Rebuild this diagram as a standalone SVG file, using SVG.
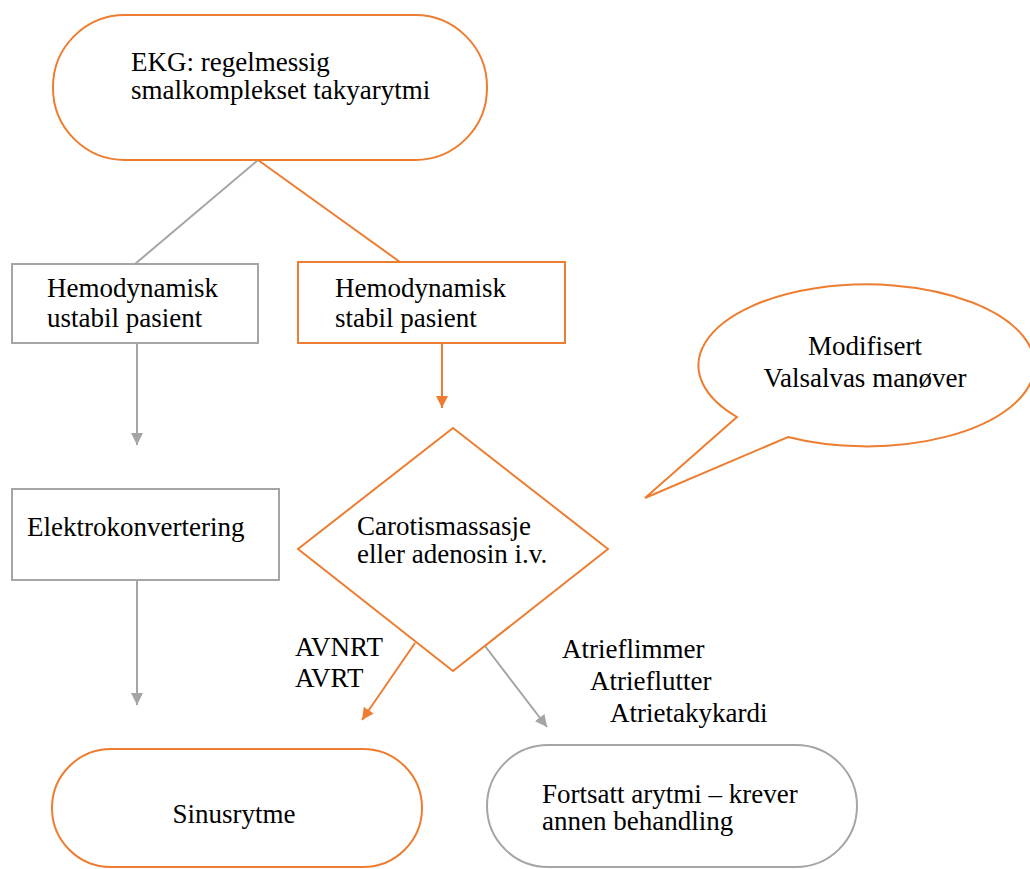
<svg xmlns="http://www.w3.org/2000/svg" width="1030" height="869" viewBox="0 0 1030 869">
<style>
text{font-family:"Liberation Serif","Times New Roman",serif;font-size:27px;fill:#000}
.o{fill:#fff;stroke:#ED7D31;stroke-width:2}
.g{fill:#fff;stroke:#A5A5A5;stroke-width:2}
.lo{fill:none;stroke:#ED7D31;stroke-width:2}
.lg{fill:none;stroke:#A5A5A5;stroke-width:2}
.c{text-anchor:middle}
</style>
<defs>
<marker id="ao" viewBox="0 0 12 12" refX="12" refY="6" markerWidth="12" markerHeight="12" markerUnits="userSpaceOnUse" orient="auto"><path d="M0,0 L12,6 L0,12 Z" fill="#ED7D31"/></marker>
<marker id="ag" viewBox="0 0 12 12" refX="12" refY="6" markerWidth="12" markerHeight="12" markerUnits="userSpaceOnUse" orient="auto"><path d="M0,0 L12,6 L0,12 Z" fill="#A5A5A5"/></marker>
</defs>
<rect width="1030" height="869" fill="#fff"/>
<g id="connectors">
<line class="lg" x1="258" y1="160" x2="135" y2="264"/>
<line class="lo" x1="258" y1="160" x2="400" y2="262"/>
<line class="lg" x1="137" y1="343" x2="137" y2="445" marker-end="url(#ag)"/>
<line class="lo" x1="442" y1="343" x2="442" y2="408" marker-end="url(#ao)"/>
<line class="lg" x1="137" y1="580" x2="137" y2="705" marker-end="url(#ag)"/>
<line class="lo" x1="415" y1="643" x2="362" y2="720" marker-end="url(#ao)"/>
<line class="lg" x1="485" y1="646" x2="547" y2="727" marker-end="url(#ag)"/>
</g>
<g id="start">
<rect class="o" x="53" y="15" width="434" height="145" rx="72" ry="72"/>
<text x="131" y="71">EKG: regelmessig</text>
<text x="131" y="99">smalkomplekset takyarytmi</text>
</g>
<g id="ustabil">
<rect class="g" x="12" y="264" width="246" height="79"/>
<text x="47" y="297">Hemodynamisk</text>
<text x="47" y="327">ustabil pasient</text>
</g>
<g id="stabil">
<rect class="o" x="298" y="262" width="267" height="81"/>
<text x="335" y="297">Hemodynamisk</text>
<text x="335" y="327">stabil pasient</text>
</g>
<g id="elektro">
<rect class="g" x="12" y="489" width="267" height="91"/>
<text x="27" y="536">Elektrokonvertering</text>
</g>
<g id="diamond">
<polygon class="o" points="453,428 608,549 453,671 298,549"/>
<text x="357" y="535">Carotismassasje</text>
<text x="357" y="563">eller adenosin i.v.</text>
</g>
<g id="valsalva">
<path class="o" d="M737,417 L645,498 L788,437 A168,81 0 1 0 737,417 Z"/>
<text class="c" x="865" y="355">Modifisert</text>
<text class="c" x="865" y="387">Valsalvas manøver</text>
</g>
<g id="labels-left">
<text x="295" y="656">AVNRT</text>
<text x="295" y="687">AVRT</text>
</g>
<g id="labels-right">
<text x="562" y="658">Atrieflimmer</text>
<text x="590" y="690">Atrieflutter</text>
<text x="610" y="722">Atrietakykardi</text>
</g>
<g id="sinus">
<rect class="o" x="52" y="749" width="370" height="118" rx="59" ry="59"/>
<text class="c" x="234" y="823">Sinusrytme</text>
</g>
<g id="fortsatt">
<rect class="g" x="487" y="745" width="370" height="122" rx="61" ry="61"/>
<text x="542" y="803">Fortsatt arytmi – krever</text>
<text x="542" y="830">annen behandling</text>
</g>
</svg>
